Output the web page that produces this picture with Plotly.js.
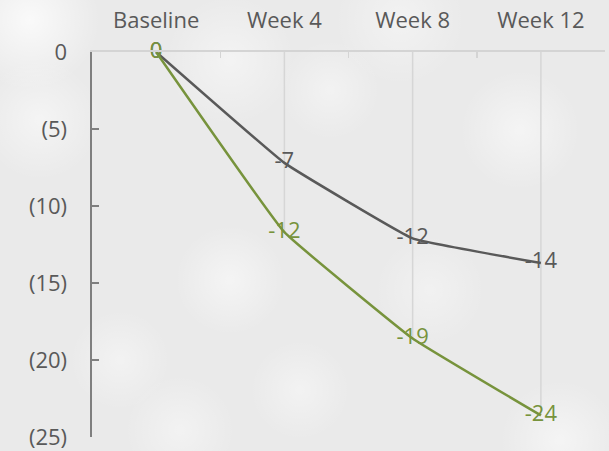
<!DOCTYPE html>
<html>
<head>
<meta charset="utf-8">
<script src="https://cdn.plot.ly/plotly-3.0.1.min.js"></script>
<style>
  html, body { margin: 0; padding: 0; }
  body {
    width: 609px; height: 451px; overflow: hidden;
    background-color: #eaeaea;
    background-image:
      radial-gradient(circle at 30px 20px, rgba(255,255,255,0.75) 0, rgba(255,255,255,0) 70px),
      radial-gradient(circle at 40px 120px, rgba(255,255,255,0.5) 0, rgba(255,255,255,0) 60px),
      radial-gradient(circle at 230px 60px, rgba(255,255,255,0.45) 0, rgba(255,255,255,0) 65px),
      radial-gradient(circle at 330px 90px, rgba(255,255,255,0.4) 0, rgba(255,255,255,0) 50px),
      radial-gradient(circle at 520px 130px, rgba(255,255,255,0.5) 0, rgba(255,255,255,0) 60px),
      radial-gradient(circle at 230px 280px, rgba(255,255,255,0.5) 0, rgba(255,255,255,0) 55px),
      radial-gradient(circle at 300px 390px, rgba(255,255,255,0.4) 0, rgba(255,255,255,0) 50px),
      radial-gradient(circle at 120px 360px, rgba(255,255,255,0.4) 0, rgba(255,255,255,0) 50px),
      radial-gradient(circle at 430px 290px, rgba(255,255,255,0.35) 0, rgba(255,255,255,0) 55px),
      radial-gradient(circle at 560px 440px, rgba(255,255,255,0.5) 0, rgba(255,255,255,0) 60px),
      radial-gradient(circle at 400px 20px, rgba(255,255,255,0.4) 0, rgba(255,255,255,0) 65px),
      radial-gradient(circle at 180px 430px, rgba(255,255,255,0.4) 0, rgba(255,255,255,0) 55px);
  }
  #chart { width: 609px; height: 451px; }
</style>
</head>
<body>
<div id="chart"></div>
<script>
// Time points and change from baseline for the two groups
const timepoints = ["Baseline", "Week 4", "Week 8", "Week 12"];
const grayChange = [0, -7.2, -12.1, -13.7];
const greenChange = [0, -11.7, -18.6, -23.6];

// Y axis ticks shown in accounting style
const yTickVals = [0, -5, -10, -15, -20, -25];
const yTickText = ["0", "(5)", "(10)", "(15)", "(20)", "(25)"];

const FONT = "Open Sans, sans-serif";
const GRAY = "#595959";
const GREEN = "#77933c";
const SIZE = 22;

// Drop lines from the category axis down to the lowest point in each category
const dropX = [], dropY = [];
timepoints.forEach((t, i) => {
  const low = Math.min(grayChange[i], greenChange[i]);
  dropX.push(t, t, null);
  dropY.push(0, low, null);
});

const fmt = v => String(Math.round(v));

const traces = [
  {
    x: dropX, y: dropY, type: "scatter", mode: "lines",
    line: { color: "#d6d6d6", width: 1.5 },
    hoverinfo: "skip", showlegend: false
  },
  {
    x: timepoints, y: grayChange, type: "scatter", mode: "lines+text",
    line: { color: GRAY, width: 2.5, shape: "spline", smoothing: 0.25 },
    text: grayChange.map(fmt), textposition: "middle center",
    textfont: { family: FONT, size: SIZE, color: GRAY },
    showlegend: false, cliponaxis: false
  },
  {
    x: timepoints, y: greenChange, type: "scatter", mode: "lines+text",
    line: { color: GREEN, width: 2.5, shape: "spline", smoothing: 0.25 },
    text: greenChange.map(fmt), textposition: "middle center",
    textfont: { family: FONT, size: SIZE, color: GREEN },
    showlegend: false, cliponaxis: false
  }
];

const layout = {
  width: 609, height: 451,
  margin: { l: 92, r: 4, t: 52, b: 14 },
  paper_bgcolor: "rgba(0,0,0,0)",
  plot_bgcolor: "rgba(0,0,0,0)",
  font: { family: FONT, size: SIZE, color: GRAY },
  xaxis: {
    type: "category", side: "top",
    range: [-0.5, 3.5],
    showgrid: false, zeroline: false,
    showline: true, linecolor: "#d4d4d4", linewidth: 2,
    ticks: "inside", tickson: "boundaries", ticklen: 6, tickwidth: 1.5, tickcolor: "#d4d4d4",
    ticklabelstandoff: 13,
    tickfont: { family: FONT, size: SIZE, color: GRAY }
  },
  yaxis: {
    range: [-25, 0],
    showgrid: false, zeroline: false,
    showline: true, linecolor: "#7f7f7f", linewidth: 2.5,
    ticks: "inside", ticklen: 7, tickwidth: 2, tickcolor: "#7f7f7f",
    tickvals: yTickVals, ticktext: yTickText,
    ticklabelstandoff: 18,
    tickfont: { family: FONT, size: SIZE, color: GRAY }
  }
};

Plotly.newPlot("chart", traces, layout, { displayModeBar: false, staticPlot: true });
</script>
</body>
</html>
